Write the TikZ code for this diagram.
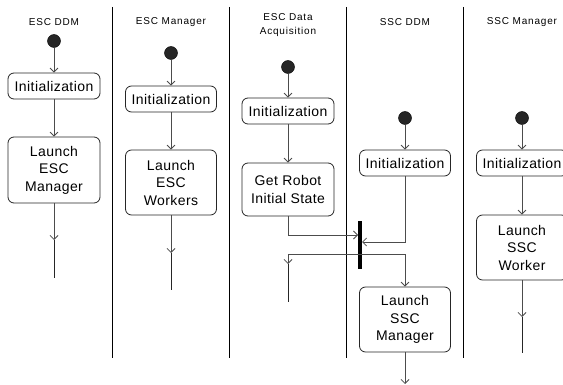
\documentclass[tikz,border=0pt]{standalone}
\usepackage{fontspec}
\setmainfont{Liberation Sans}
\usetikzlibrary{arrows.meta}
\begin{document}
\begin{tikzpicture}[x=1pt,y=-1pt,
  lanetitle/.style={font=\fontsize{10}{14}\selectfont\addfontfeature{LetterSpace=8}, align=center, inner sep=0pt},
  divider/.style={draw=black, line width=0.9pt},
  startnode/.style={circle, fill=black!85, draw=black, minimum size=13pt, inner sep=0pt},
  activity/.style={draw=black!85, rounded corners=6pt, line width=0.8pt, align=center,
    font=\fontsize{14}{17.5}\selectfont\addfontfeature{LetterSpace=3}, inner sep=0pt},
  flow/.style={draw=black!70, line width=0.8pt, -{Straight Barb[length=4pt,width=8pt]}},
  tail/.style={draw=black!85, line width=0.9pt},
  syncbar/.style={fill=black, draw=none, minimum width=4pt, minimum height=48pt, inner sep=0pt}
]
\clip (0,0) rectangle (563,385);
\fill[white] (0,0) rectangle (563,385);

% swimlane separators
\foreach \x in {112,229,346,463}
  \draw[divider] (\x,7) -- (\x,358);

% lane headings
\node[lanetitle] (t1) at (54,22) {ESC DDM};
\node[lanetitle] (t2) at (171,22) {ESC Manager};
\node[lanetitle] (t3) at (288,25) {ESC Data\\Acquisition};
\node[lanetitle] (t4) at (405,22) {SSC DDM};
\node[lanetitle] (t5) at (522,22) {SSC Manager};

% initial states
\node[startnode] (s1) at (54,41) {};
\node[startnode] (s2) at (171,53) {};
\node[startnode] (s3) at (288,67) {};
\node[startnode] (s4) at (405,118) {};
\node[startnode] (s5) at (522,118) {};

% activities
\node[activity, minimum width=92pt, minimum height=26pt] (i1) at (54,86) {Initialization};
\node[activity, minimum width=92pt, minimum height=66pt] (l1) at (54,170) {Launch\\ESC\\Manager};

\node[activity, minimum width=91pt, minimum height=26pt] (i2) at (171,99) {Initialization};
\node[activity, minimum width=91pt, minimum height=65pt] (l2) at (171,182.5) {Launch\\ESC\\Workers};

\node[activity, minimum width=92pt, minimum height=26pt] (i3) at (288,111) {Initialization};
\node[activity, minimum width=92pt, minimum height=53pt] (g3) at (288,189.5) {Get Robot\\Initial State};

\node[activity, minimum width=91pt, minimum height=26pt] (i4) at (405,163) {Initialization};
\node[activity, minimum width=91pt, minimum height=65pt] (m4) at (405,319.5) {Launch\\SSC\\Manager};

\node[activity, minimum width=91pt, minimum height=26pt] (i5) at (522,163) {Initialization};
\node[activity, minimum width=91pt, minimum height=65pt] (w5) at (522,247.5) {Launch\\SSC\\Worker};

% synchronisation bar
\node[syncbar] (bar) at (360,245) {};

% loose ends
\coordinate (e1) at (54,240);   \coordinate (f1) at (54,278);
\coordinate (e2) at (171,253);  \coordinate (f2) at (171,290);
\coordinate (e3) at (288,264);  \coordinate (f3) at (288,302);
\coordinate (e5) at (522,317);  \coordinate (f5) at (522,353);
\coordinate (e4) at (405,384);
\coordinate (jin1) at (358,235);
\coordinate (jin2) at (362,242);
\coordinate (jout) at (360,254);

% ESC DDM
\draw[flow] (s1) -- (i1);
\draw[flow] (i1) -- (l1);
\draw[flow] (l1) -- (e1);
\draw[tail] (e1) -- (f1);

% ESC Manager
\draw[flow] (s2) -- (i2);
\draw[flow] (i2) -- (l2);
\draw[flow] (l2) -- (e2);
\draw[tail] (e2) -- (f2);

% ESC Data Acquisition
\draw[flow] (s3) -- (i3);
\draw[flow] (i3) -- (g3);
\draw[flow] (g3.south) |- (jin1);

% SSC DDM
\draw[flow] (s4) -- (i4);
\draw[flow] (i4.south) |- (jin2);
\draw[flow] (jout) -| (e3);
\draw[tail] (e3) -- (f3);
\draw[flow] (jout) -| (m4.north);
\draw[flow] (m4) -- (e4);

% SSC Manager
\draw[flow] (s5) -- (i5);
\draw[flow] (i5) -- (w5);
\draw[flow] (w5) -- (e5);
\draw[tail] (e5) -- (f5);
\end{tikzpicture}
\end{document}
